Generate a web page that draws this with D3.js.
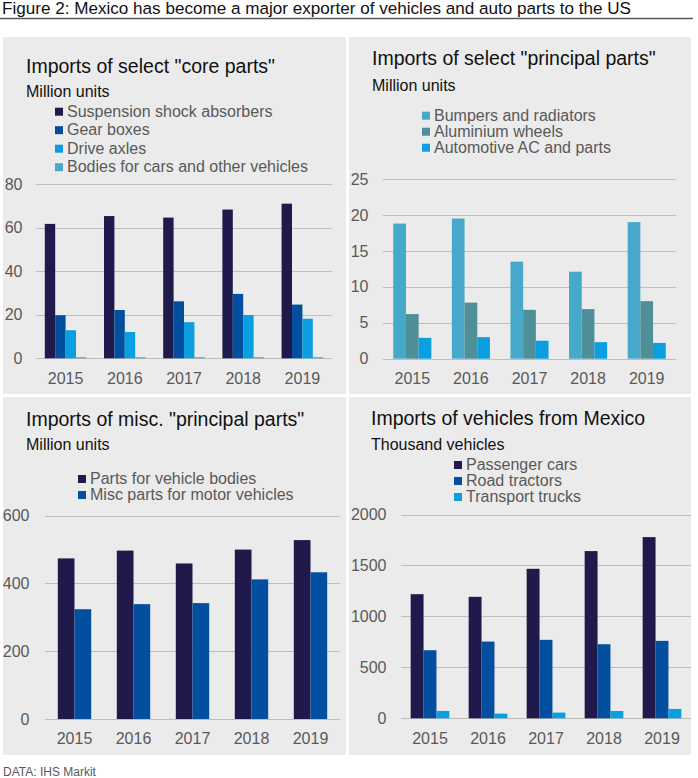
<!DOCTYPE html>
<html>
<head>
<meta charset="utf-8">
<script src="https://cdn.jsdelivr.net/npm/d3@7"></script>
<style>
  html, body { margin: 0; padding: 0; background: #ffffff; }
  svg { display: block; font-family: "Liberation Sans", Arial, sans-serif; }
</style>
</head>
<body>
<svg id="chart" width="698" height="778"></svg>
<script>
// ---------- data ----------
const years = ["2015", "2016", "2017", "2018", "2019"];

// Panel 1: core parts (million units)
const coreSeries = ["Suspension shock absorbers", "Gear boxes", "Drive axles", "Bodies for cars and other vehicles"];
const shockAbsorbers = [61.8, 65.4, 64.7, 68.4, 71.1];
const gearBoxes = [19.8, 22.2, 26.2, 29.6, 24.7];
const driveAxles = [12.9, 12.1, 16.6, 19.9, 18.2];
const carBodies = [0.5, 0.5, 0.5, 0.5, 0.5];
const coreTicks = [0, 20, 40, 60, 80];

// Panel 2: principal parts (million units)
const principalSeries = ["Bumpers and radiators", "Aluminium wheels", "Automotive AC and parts"];
const bumpers = [18.8, 19.5, 13.5, 12.1, 19.0];
const wheels = [6.2, 7.8, 6.8, 6.9, 8.0];
const autoAC = [2.9, 3.0, 2.5, 2.3, 2.2];
const principalTicks = [0, 5, 10, 15, 20, 25];

// Panel 3: misc principal parts (million units)
const miscSeries = ["Parts for vehicle bodies", "Misc parts for motor vehicles"];
const bodyParts = [474, 497, 459, 500, 528];
const miscParts = [324, 339, 342, 412, 433];
const miscTicks = [0, 200, 400, 600];

// Panel 4: vehicles (thousand vehicles)
const vehicleSeries = ["Passenger cars", "Road tractors", "Transport trucks"];
const passengerCars = [1218, 1192, 1467, 1641, 1778];
const roadTractors = [668, 753, 770, 727, 760];
const transportTrucks = [72, 46, 56, 72, 92];
const vehicleTicks = [0, 500, 1000, 1500, 2000];

// ---------- drawing ----------
const svg = d3.select("#chart");
const TXT = "#595959";

svg.append("text").attr("x", 2).attr("y", 14)
  .attr("font-size", 17.1).attr("fill", "#111")
  .text("Figure 2: Mexico has become a major exporter of vehicles and auto parts to the US");
svg.append("line").attr("x1", 0).attr("x2", 693).attr("y1", 18.5).attr("y2", 18.5)
  .attr("stroke", "#595959").attr("stroke-width", 1.6);

svg.append("text").attr("x", 3).attr("y", 776)
  .attr("font-size", 12).attr("fill", TXT).text("DATA: IHS Markit");

function panel(cfg) {
  const g = svg.append("g");
  g.append("rect").attr("x", cfg.bx).attr("y", cfg.by).attr("width", cfg.bw).attr("height", cfg.bh)
    .attr("fill", "#ebebeb");
  g.append("text").attr("x", cfg.tx).attr("y", cfg.titleY).attr("font-size", 19.5).attr("fill", "#111")
    .text(cfg.title);
  g.append("text").attr("x", cfg.tx).attr("y", cfg.subY).attr("font-size", 16).attr("fill", "#111")
    .text(cfg.sub);

  // legend
  cfg.names.forEach((n, i) => {
    const y = cfg.legY + i * cfg.legStep;
    g.append("rect").attr("x", cfg.legX).attr("y", y - 9).attr("width", 8).attr("height", 8)
      .attr("fill", cfg.colors[i]);
    g.append("text").attr("x", cfg.legX + 12).attr("y", y).attr("font-size", 16).attr("fill", TXT).text(n);
  });

  const x0 = d3.scaleBand().domain(years).range([cfg.px0, cfg.px1])
    .paddingInner(cfg.pad).paddingOuter(cfg.pad / 2);
  const x1 = d3.scaleBand().domain(d3.range(cfg.series.length)).range([0, x0.bandwidth()]);
  const y = d3.scaleLinear().domain([0, cfg.ticks[cfg.ticks.length - 1]]).range([cfg.py0, cfg.py1]);

  // gridlines
  g.append("g").selectAll("line").data(cfg.ticks).join("line")
    .attr("x1", cfg.gx0).attr("x2", cfg.px1)
    .attr("y1", d => Math.round(y(d)) + 0.5).attr("y2", d => Math.round(y(d)) + 0.5)
    .attr("stroke", "#bdbdbd").attr("stroke-width", 1);

  // y axis labels
  const yAxis = d3.axisLeft(y).tickValues(cfg.ticks).tickFormat(d3.format("d")).tickSize(0).tickPadding(0);
  const ya = g.append("g").attr("transform", `translate(${cfg.ylx},0)`).call(yAxis);
  ya.select(".domain").remove();
  ya.selectAll("text").attr("font-size", 16).attr("fill", TXT)
    .attr("font-family", "Liberation Sans, Arial, sans-serif");

  // bars
  const groups = g.append("g").selectAll("g").data(years).join("g")
    .attr("transform", d => `translate(${x0(d)},0)`);
  groups.selectAll("rect").data((d, i) => cfg.series.map((s, k) => ({ k, v: s[i] }))).join("rect")
    .attr("x", d => x1(d.k)).attr("width", x1.bandwidth())
    .attr("y", d => y(d.v)).attr("height", d => cfg.py0 - y(d.v))
    .attr("fill", d => cfg.colors[d.k]);

  // x axis labels
  const xAxis = d3.axisBottom(x0).tickSize(0).tickPadding(0);
  const xa = g.append("g").attr("transform", `translate(0,${cfg.xly})`).call(xAxis);
  xa.select(".domain").remove();
  xa.selectAll("text").attr("font-size", 16).attr("fill", TXT).attr("dy", 0)
    .attr("font-family", "Liberation Sans, Arial, sans-serif");
}

const DARK = "#201a4c", BLUE = "#034f9f", SKY = "#0b9ee1";

panel({
  bx: 3, by: 37, bw: 343, bh: 357, tx: 26, titleY: 72.7, subY: 96.7,
  title: 'Imports of select "core parts"', sub: "Million units",
  names: coreSeries, legX: 55, legY: 116.7, legStep: 18.5,
  series: [shockAbsorbers, gearBoxes, driveAxles, carBodies],
  colors: [DARK, BLUE, SKY, "#47aacb"],
  px0: 36, px1: 332, gx0: 36, pad: 0.297, ticks: coreTicks,
  py0: 358.3, py1: 184.3, ylx: 22.5, xly: 383.5
});

panel({
  bx: 349, by: 37, bw: 342, bh: 357, tx: 372, titleY: 65, subY: 90.7,
  title: 'Imports of select "principal parts"', sub: "Million units",
  names: principalSeries, legX: 422, legY: 120.7, legStep: 16,
  series: [bumpers, wheels, autoAC],
  colors: ["#46a9c9", "#4f8f98", SKY],
  px0: 383, px1: 676, gx0: 383, pad: 0.35, ticks: principalTicks,
  py0: 358.7, py1: 179, ylx: 368.5, xly: 384
});

panel({
  bx: 3, by: 397, bw: 343, bh: 358, tx: 26, titleY: 425.7, subY: 450,
  title: 'Imports of misc. "principal parts"', sub: "Million units",
  names: miscSeries, legX: 78, legY: 484, legStep: 16,
  series: [bodyParts, miscParts],
  colors: [DARK, BLUE],
  px0: 45, px1: 340, gx0: 45, pad: 0.434, ticks: miscTicks,
  py0: 719, py1: 515.7, ylx: 29.5, xly: 744
});

panel({
  bx: 349, by: 397, bw: 342, bh: 358, tx: 371, titleY: 425, subY: 450,
  title: "Imports of vehicles from Mexico", sub: "Thousand vehicles",
  names: vehicleSeries, legX: 454, legY: 470, legStep: 16,
  series: [passengerCars, roadTractors, transportTrucks],
  colors: [DARK, BLUE, SKY],
  px0: 401, px1: 691, gx0: 401, pad: 0.333, ticks: vehicleTicks,
  py0: 718.3, py1: 514.5, ylx: 386.5, xly: 744
});
</script>
</body>
</html>
